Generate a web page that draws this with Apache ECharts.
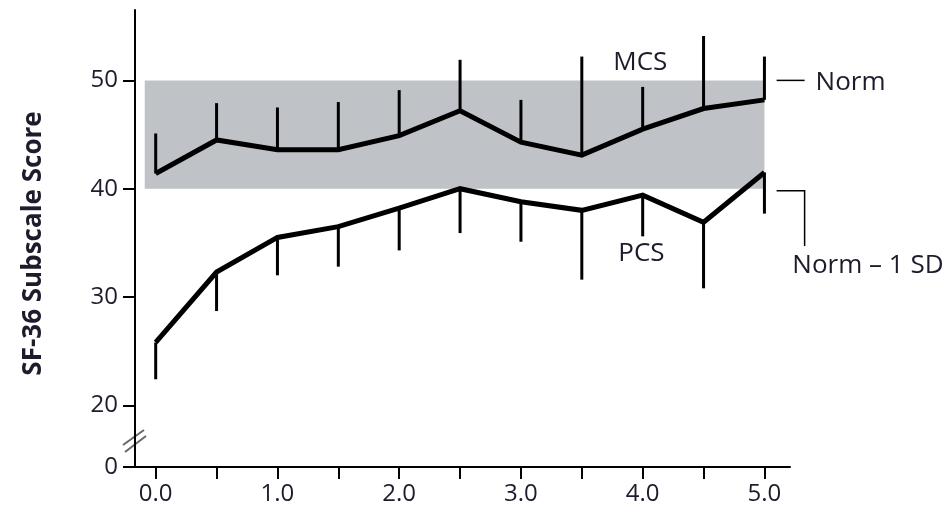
<!DOCTYPE html>
<html><head><meta charset="utf-8">
<script src="https://cdn.jsdelivr.net/npm/echarts@6/dist/echarts.min.js"></script>
<style>html,body{margin:0;padding:0;background:#fff}#c{width:951px;height:511px}</style>
</head><body><div id="c"></div>
<script>
// ---- data ----
const xValues  = [0, 0.5, 1.0, 1.5, 2.0, 2.5, 3.0, 3.5, 4.0, 4.5, 5.0];
const mcsMean  = [41.4, 44.5, 43.6, 43.6, 44.9, 47.2, 44.3, 43.1, 45.5, 47.4, 48.2];
const mcsUpper = [45.1, 47.9, 47.5, 48.0, 49.1, 51.9, 48.2, 52.2, 49.4, 54.1, 52.2];
const pcsMean  = [25.8, 32.3, 35.5, 36.5, 38.2, 40.0, 38.8, 38.0, 39.4, 36.9, 41.5];
const pcsLower = [22.4, 28.7, 32.0, 32.8, 34.3, 35.9, 35.1, 31.6, 35.6, 30.8, 37.7];
const xTickValues  = [0, 0.5, 1.0, 1.5, 2.0, 2.5, 3.0, 3.5, 4.0, 4.5, 5.0];
const xLabelValues = [0, 1, 2, 3, 4, 5];
const yTickLabels  = [0, 20, 30, 40, 50];
const normValue = 50;
const normMinus1SD = 40;
const bandXRange = [-0.09, 5.0];
const yBreakPos = 14.3; // axis position drawn as "0" below the axis break

const TXT = '#1c1c2c';
const FONT = '"Open Sans", "Noto Sans", sans-serif';
const yTickPositions = yTickLabels.map(v => v === 0 ? yBreakPos : v);

const chart = echarts.init(document.getElementById('c'), null, {renderer: 'canvas'});
const option = {
  animation: false,
  backgroundColor: '#fff',
  grid: {left: 135, right: 161, top: 10, bottom: 44, containLabel: false},
  xAxis: {
    type: 'value', min: -0.17, max: 5.21,
    axisLine: {show: true, onZero: false, lineStyle: {color: '#000', width: 2}},
    axisTick: {show: true, inside: false, length: 12, lineStyle: {color: '#000', width: 2}, customValues: xTickValues},
    axisLabel: {customValues: xLabelValues, formatter: v => Number(v).toFixed(1),
      color: TXT, fontFamily: FONT, fontSize: 24, margin: 15},
    splitLine: {show: false}
  },
  yAxis: {
    type: 'value', min: yBreakPos, max: 56.5,
    name: 'SF-36 Subscale Score', nameLocation: 'middle', nameGap: 88, nameRotate: 90,
    nameTextStyle: {color: TXT, fontFamily: FONT, fontSize: 26, fontWeight: 'bold', padding: [0, 10, 0, 0]},
    axisLine: {show: true, onZero: false, lineStyle: {color: '#000', width: 2}},
    axisTick: {show: true, inside: false, length: 12, lineStyle: {color: '#000', width: 2}, customValues: yTickPositions},
    axisLabel: {customValues: yTickPositions,
      formatter: v => Math.abs(v - yBreakPos) < 1e-6 ? '0' : String(v),
      color: TXT, fontFamily: FONT, fontSize: 24, margin: 17},
    splitLine: {show: false}
  },
  series: [
    {
      type: 'custom', name: 'band', z: 1, silent: true, clip: false,
      data: [[bandXRange[0], normMinus1SD, bandXRange[1], normValue]],
      renderItem: (params, api) => {
        const p1 = api.coord([api.value(0), api.value(3)]);
        const p2 = api.coord([api.value(2), api.value(1)]);
        return {type: 'rect', shape: {x: p1[0], y: p1[1], width: p2[0] - p1[0], height: p2[1] - p1[1]},
          style: {fill: '#bfc3c7'}};
      }
    },
    {
      type: 'custom', name: 'MCS err', z: 3, silent: true,
      data: xValues.map((x, i) => [x, mcsMean[i], mcsUpper[i]]),
      renderItem: (params, api) => {
        const a = api.coord([api.value(0), api.value(1)]);
        const b = api.coord([api.value(0), api.value(2)]);
        return {type: 'line', shape: {x1: a[0], y1: a[1], x2: b[0], y2: b[1]}, style: {stroke: '#000', lineWidth: 3}};
      }
    },
    {
      type: 'custom', name: 'PCS err', z: 3, silent: true,
      data: xValues.map((x, i) => [x, pcsMean[i], pcsLower[i]]),
      renderItem: (params, api) => {
        const a = api.coord([api.value(0), api.value(1)]);
        const b = api.coord([api.value(0), api.value(2)]);
        return {type: 'line', shape: {x1: a[0], y1: a[1], x2: b[0], y2: b[1]}, style: {stroke: '#000', lineWidth: 3}};
      }
    },
    {
      type: 'line', name: 'MCS', z: 4, silent: true, symbol: 'none',
      data: xValues.map((x, i) => [x, mcsMean[i]]),
      lineStyle: {color: '#000', width: 5, join: 'miter'}
    },
    {
      type: 'line', name: 'PCS', z: 4, silent: true, symbol: 'none',
      data: xValues.map((x, i) => [x, pcsMean[i]]),
      lineStyle: {color: '#000', width: 5, join: 'miter'}
    }
  ]
};
chart.setOption(option);

// annotations placed through the chart's own coordinate conversion
const px = (x, y) => chart.convertToPixel({gridIndex: 0}, [x, y]);
const txtStyle = (s, align) => ({text: s, fill: TXT, font: '26px ' + FONT, textAlign: align || 'center', textVerticalAlign: 'middle'});
const pMCS = px(3.98, 51.6), pPCS = px(3.99, 34.0);
const nA = px(5.10, normValue), nB = px(5.33, normValue), nT = px(5.42, normValue - 0.2);
const sA = px(5.10, normMinus1SD - 0.2), sB = px(5.33, normMinus1SD - 0.2), sC = px(5.33, 34.7), sT = px(5.85, 32.9);
const brk = px(-0.17, 16.7);
chart.setOption({
  graphic: [
    {type: 'text', x: pMCS[0], y: pMCS[1], style: txtStyle('MCS'), z: 10},
    {type: 'text', x: pPCS[0], y: pPCS[1], style: txtStyle('PCS'), z: 10},
    {type: 'line', shape: {x1: nA[0], y1: nA[1], x2: nB[0], y2: nB[1]}, style: {stroke: '#000', lineWidth: 1.5}},
    {type: 'text', x: nT[0], y: nT[1], style: txtStyle('Norm', 'left')},
    {type: 'polyline', shape: {points: [sA, sB, sC]}, style: {stroke: '#000', lineWidth: 1.5, fill: null}},
    {type: 'text', x: sT[0], y: sT[1], style: txtStyle('Norm \u2013 1 SD')},
    {type: 'line', shape: {x1: brk[0] - 12, y1: brk[1] + 4, x2: brk[0] + 9, y2: brk[1] - 11}, style: {stroke: '#666', lineWidth: 2}},
    {type: 'line', shape: {x1: brk[0] - 10, y1: brk[1] + 11, x2: brk[0] + 11, y2: brk[1] - 5}, style: {stroke: '#666', lineWidth: 2}}
  ]
});
</script></body></html>
